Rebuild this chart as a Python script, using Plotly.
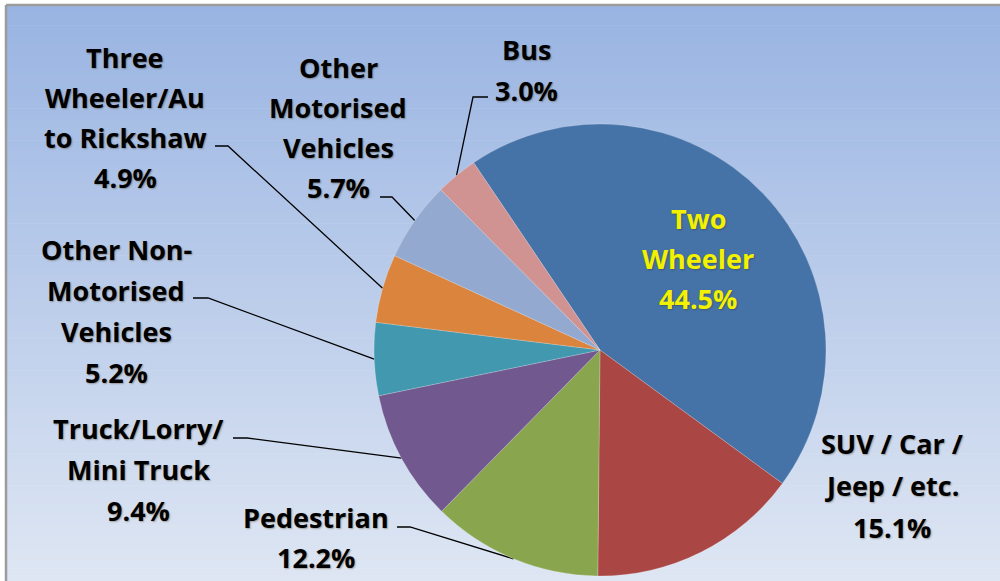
import plotly.graph_objects as go
import math

# ---- data ----
categories = ["Two Wheeler", "SUV / Car / Jeep / etc.", "Pedestrian",
              "Truck/Lorry/Mini Truck", "Other Non-Motorised Vehicles",
              "Three Wheeler/Auto Rickshaw", "Other Motorised Vehicles", "Bus"]
shares = [44.5, 15.1, 12.2, 9.4, 5.2, 4.9, 5.7, 3.0]
label_lines = [
    ["Two", "Wheeler"],
    ["SUV / Car /", "Jeep / etc."],
    ["Pedestrian"],
    ["Truck/Lorry/", "Mini Truck"],
    ["Other Non-", "Motorised", "Vehicles"],
    ["Three", "Wheeler/Au", "to Rickshaw"],
    ["Other", "Motorised", "Vehicles"],
    ["Bus"],
]
colors = ["#4572A7", "#AA4643", "#89A54E", "#71588F",
          "#4198AF", "#DB843D", "#93A9CF", "#D19392"]

# ---- layout constants (pixels) ----
W, H = 1000, 581
CX, CY, R = 600, 350, 226
ROTATION = -34
FONT = "Open Sans"
FS = 27
# label block: (center x, first line center y, line spacing, text color)
label_pos = [
    (698, 218, 40, "#F2F200"),
    (892, 443, 42, "#000000"),
    (316, 517, 40, "#000000"),
    (138, 428, 41, "#000000"),
    (116, 249, 41, "#000000"),
    (125, 57, 40, "#000000"),
    (338, 67, 40, "#000000"),
    (526, 49, 41, "#000000"),
]
# leader stub (x_start, x_end, y) or None
leader_stub = [None, None, (397, 410, 527), (233, 247, 438), (193, 208, 298),
               (215, 228, 146), (380, 392, 197), (488, 473, 97)]

fig = go.Figure()

# background gradient and frame
top_c = (153, 180, 226)
bot_c = (222, 230, 243)
N = 90
y0 = 6
shapes = []
shapes.append(dict(type="rect", xref="x", yref="y", x0=0, x1=W, y0=0, y1=H,
                   fillcolor="white", line_width=0, layer="below"))
for i in range(N):
    t = i / (N - 1)
    c = tuple(round(top_c[k] + (bot_c[k] - top_c[k]) * t) for k in range(3))
    ya = y0 + (H - y0) * i / N
    yb = y0 + (H - y0) * (i + 1) / N + 0.6
    shapes.append(dict(type="rect", xref="x", yref="y", x0=7, x1=W, y0=ya, y1=yb,
                       fillcolor="rgb(%d,%d,%d)" % c, line_width=0, layer="below"))
shapes.append(dict(type="line", xref="x", yref="y", x0=6, x1=W, y0=5, y1=5,
                   line=dict(color="#9c9c9c", width=2.5), layer="below"))
shapes.append(dict(type="line", xref="x", yref="y", x0=6, x1=6, y0=5, y1=H,
                   line=dict(color="#9c9c9c", width=2.5), layer="below"))

fig.add_trace(go.Pie(
    labels=categories, values=shares, sort=False, direction="clockwise",
    rotation=ROTATION, textinfo="none", hoverinfo="label+percent",
    marker=dict(colors=colors, line=dict(color="rgba(255,255,255,0.35)", width=0.6)),
    domain=dict(x=[(CX - R) / W, (CX + R) / W],
                y=[(H - CY - R) / H, (H - CY + R) / H]),
    showlegend=False,
))

# dummy trace to activate pixel axes
fig.add_trace(go.Scatter(x=[0, W], y=[0, H], mode="markers",
                         marker=dict(opacity=0), hoverinfo="skip", showlegend=False))

total = sum(shares)
annotations = []
cum = 0.0
for i, v in enumerate(shares):
    mid = ROTATION + 360.0 * (cum + v / 2) / total
    cum += v
    a = math.radians(mid)
    px, py = CX + R * math.sin(a), CY - R * math.cos(a)
    st = leader_stub[i]
    if st is not None:
        fig.add_trace(go.Scatter(x=[st[0], st[1], px], y=[st[2], st[2], py],
                                 mode="lines", line=dict(color="black", width=1.3),
                                 hoverinfo="skip", showlegend=False))
    lx, ly, sp, col = label_pos[i]
    lines = label_lines[i] + ["%.1f%%" % v]
    for j, ln in enumerate(lines):
        annotations.append(dict(
            x=lx, y=ly + j * sp, xref="x", yref="y", text="<b>%s</b>" % ln,
            showarrow=False, xanchor="center", yanchor="middle",
            font=dict(family=FONT, size=FS, color=col,
                      shadow="1px 1px 1.5px rgba(60,40,0,0.35)")))

fig.update_layout(
    width=W, height=H, margin=dict(l=0, r=0, t=0, b=0),
    paper_bgcolor="white", plot_bgcolor="rgba(0,0,0,0)",
    xaxis=dict(range=[0, W], visible=False, fixedrange=True),
    yaxis=dict(range=[H, 0], visible=False, fixedrange=True),
    shapes=shapes, annotations=annotations,
)

fig.write_html("out.html", config={"displayModeBar": False},
               post_script="document.body.style.margin='0px';document.body.style.overflow='hidden';")
